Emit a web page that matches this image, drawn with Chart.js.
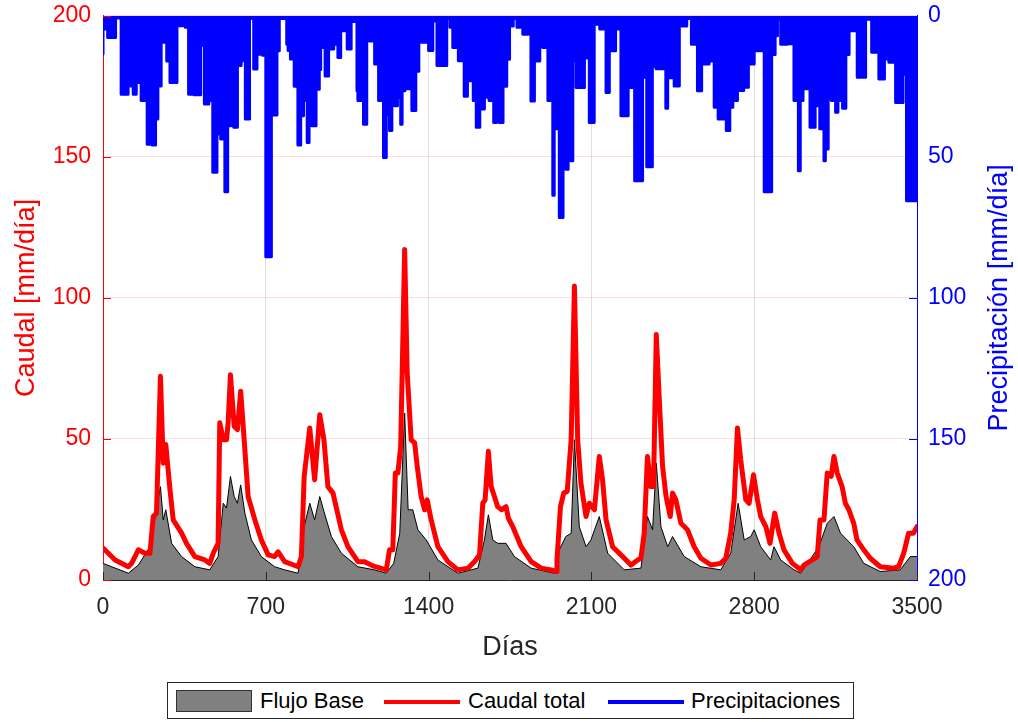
<!DOCTYPE html>
<html>
<head>
<meta charset="utf-8">
<script src="https://cdn.jsdelivr.net/npm/chart.js@4.4.1/dist/chart.umd.min.js"></script>
<style>
  body { margin: 0; background: #fff; font-family: "Liberation Sans", Arial, sans-serif; overflow: hidden; }
  #wrap { position: relative; width: 1018px; height: 722px; }
  #chartBox { position: absolute; left: 0; top: -10px; width: 1018px; height: 682px; }
  #legend { position: absolute; left: 167px; top: 682px; width: 687px; height: 37px;
            border: 1px solid #262626; box-sizing: border-box; background: #fff;
            font-size: 22px; color: #000; }
  #legend span, #legend i { position: absolute; display: block; }
  #legend span { top: 4px; line-height: 28px; }
  #legend i { height: 4px; top: 17px; }
</style>
</head>
<body>
<div id="wrap">
  <div id="chartBox"><canvas id="caudal"></canvas></div>
  <div id="legend">
    <i style="left:8px; top:7px; width:76px; height:22px; background:#808080; border:1px solid #333; box-sizing:border-box"></i>
    <span style="left:92px">Flujo Base</span>
    <i style="left:216px; width:76px; background:#ff0000"></i>
    <span style="left:300px">Caudal total</span>
    <i style="left:440px; width:76px; background:#0000ff"></i>
    <span style="left:523px">Precipitaciones</span>
  </div>
</div>
<script>
// caudal total (mm/dia)
const totalDays = [0, 23, 52, 109, 123, 152, 180, 202, 216, 230, 247, 259, 270, 288, 302, 338, 359, 395, 438, 459, 474, 495,
  502, 517, 531, 538, 548, 564, 578, 592, 607, 624, 653, 681, 710, 738, 753, 781, 839, 853, 865, 889, 910, 932, 950, 967,
  989, 1025, 1053, 1096, 1125, 1160, 1218, 1232, 1246, 1257, 1268, 1280, 1297, 1308, 1325, 1340, 1351, 1368, 1383, 1394,
  1411, 1440, 1483, 1526, 1569, 1597, 1619, 1633, 1643, 1657, 1669, 1683, 1697, 1714, 1733, 1743, 1762, 1798, 1841, 1884,
  1927, 1948, 1952, 1967, 1981, 1996, 2013, 2027, 2041, 2055, 2077, 2091, 2113, 2134, 2148, 2163, 2191, 2227, 2270, 2299,
  2313, 2327, 2341, 2356, 2367, 2379, 2392, 2406, 2421, 2439, 2449, 2463, 2485, 2513, 2542, 2571, 2614, 2656, 2678, 2699,
  2714, 2728, 2742, 2764, 2778, 2797, 2814, 2828, 2850, 2868, 2888, 2907, 2928, 2964, 3000, 3014, 3050, 3071, 3083, 3100,
  3114, 3131, 3143, 3157, 3178, 3192, 3207, 3228, 3242, 3271, 3299, 3342, 3400, 3421, 3443, 3464, 3485, 3500];
const totalFlow = [11.3, 9.5, 7.1, 4.7, 5.9, 10.7, 9.5, 9.5, 22.5, 23.7, 72.2, 41.4, 48, 32, 21.3, 16.6, 13, 8.3, 7.1, 5.9, 9.5, 13,
  55.7, 49.7, 49.7, 55.7, 72.8, 54.5, 53.3, 66.9, 49.7, 29.6, 21.3, 14.2, 8.9, 8.3, 10, 6.5, 4.7, 8.3, 36.7, 53.9, 35.5, 58.6, 49.7, 33.1,
  30.8, 17.8, 11.8, 6.5, 6.5, 5, 3.6, 10.7, 10.7, 37.9, 37.9, 47.4, 117.2, 73.4, 49.7, 48.6, 40.3, 29.6, 24.9, 28.4,
  21.3, 11.8, 6.5, 3.6, 4.2, 6.5, 8.9, 27.2, 28.4, 45.6, 33.1, 29.6, 26, 24.9, 26, 21.9, 18.9, 11.8, 6.5, 4.2,
  3.6, 3, 7.1, 26, 30.8, 31.4, 49.7, 104.2, 49.7, 34.3, 22.5, 27.2, 24.9, 43.8, 35.5, 21.3, 11.8, 8.9, 5.3, 7.1,
  7.7, 16.6, 43.8, 33.1, 33.1, 87, 63.9, 40.3, 29.6, 22.5, 30.8, 28.4, 20.1, 17.8, 11.8, 7.7, 5.3, 5.9, 7.7, 16.6,
  28.4, 53.9, 42.6, 28.4, 27.2, 37.3, 28.4, 22.5, 18.9, 13, 23.7, 16.6, 10.7, 5.9, 3.6, 5.3, 7.1, 8.3, 21.3, 21.3,
  37.9, 36.7, 43.8, 37.9, 33.1, 27.2, 24.9, 20.1, 14.2, 10.7, 7.7, 4.7, 4.2, 4.7, 9.5, 16.6, 16.6, 18.9];

// flujo base (mm/dia)
const baseDays = [0, 109, 152, 202, 247, 259, 270, 295, 338, 395, 459, 495, 517, 531, 548, 564, 578, 592, 610, 638, 681, 738,
  781, 839, 865, 889, 910, 932, 950, 982, 1025, 1096, 1168, 1218, 1250, 1276, 1297, 1312, 1332, 1354, 1390, 1440, 1526,
  1612, 1640, 1657, 1676, 1697, 1733, 1769, 1841, 1941, 1962, 1990, 2013, 2027, 2048, 2077, 2098, 2134, 2170, 2241, 2313,
  2341, 2363, 2379, 2399, 2428, 2449, 2499, 2571, 2656, 2699, 2731, 2757, 2785, 2800, 2828, 2871, 2885, 2914, 2971, 3000,
  3078, 3114, 3143, 3171, 3228, 3271, 3342, 3428, 3471, 3500];
const baseFlow = [5.9, 2.4, 5.3, 11.8, 33.1, 21.3, 24.9, 13, 8.3, 4.7, 3.6, 8.3, 27.2, 25.5, 36.7, 29.6, 27.2, 33.7, 23.7, 14.2, 8.3, 4.7,
  3.6, 2.4, 18.9, 27.2, 21.3, 29.6, 24.3, 15.4, 9.5, 4.7, 3.6, 2.4, 5.9, 16.6, 59.2, 24.9, 24.9, 17.8, 14.2, 7.1, 2.4,
  4.2, 14.2, 23.1, 14.2, 13, 13, 8.3, 4.2, 2.4, 10.7, 15.4, 16.6, 49.7, 18.9, 11.8, 14.2, 22.5, 9.5, 3.6, 4.2,
  22.5, 17.8, 41.4, 18.9, 11.8, 15.4, 8.3, 4.7, 3.6, 9.5, 27.2, 14.2, 15.4, 17.8, 11.8, 7.1, 11.8, 7.1, 3.6, 2.4,
  11.8, 20.1, 22.5, 16.6, 11.8, 5.9, 3, 3.6, 8.3, 8.3];

// precipitaciones (mm/dia): cada valor rige desde su dia hasta el siguiente
const rainDays = [0, 20, 54, 78, 108, 130, 143, 164, 190, 202, 212, 226, 236, 250, 274, 288, 318, 354, 368, 392, 420, 436,
  455, 472, 490, 506, 524, 536, 550, 562, 578, 594, 612, 630, 648, 662, 686, 700, 724, 732, 748, 758, 790, 796, 806, 822,
  838, 850, 862, 878, 886, 898, 916, 930, 936, 955, 970, 992, 1010, 1022, 1042, 1050, 1067, 1092, 1096, 1120, 1134, 1146,
  1168, 1185, 1206, 1218, 1232, 1242, 1254, 1266, 1280, 1286, 1298, 1318, 1328, 1345, 1358, 1400, 1418, 1436, 1478, 1492,
  1504, 1528, 1553, 1567, 1582, 1592, 1605, 1620, 1640, 1660, 1680, 1692, 1704, 1720, 1736, 1748, 1764, 1780, 1805, 1828,
  1840, 1855, 1878, 1891, 1913, 1934, 1940, 1952, 1962, 1978, 1990, 2000, 2012, 2020, 2034, 2070, 2091, 2112, 2136, 2163,
  2177, 2204, 2227, 2258, 2286, 2320, 2338, 2362, 2378, 2420, 2428, 2456, 2478, 2510, 2530, 2556, 2574, 2606, 2628, 2645,
  2680, 2695, 2708, 2728, 2738, 2755, 2775, 2800, 2843, 2875, 2890, 2900, 2914, 2943, 2971, 2990, 2998, 3010, 3020, 3040,
  3062, 3082, 3100, 3106, 3118, 3132, 3150, 3160, 3180, 3194, 3208, 3243, 3279, 3305, 3336, 3360, 3379, 3408, 3440, 3455,
  3482, 3500];
const rainVals = [13.5, 4.7, 7.7, 0.8, 27.8, 24.9, 27.8, 23.6, 30, 45.5, 36, 45.8, 36.6, 24.9, 9.4, 16, 23.6, 3.5, 4.1, 27.8, 28, 10.5,
  31.3, 30, 55.5, 41.9, 43.7, 62.4, 39, 38, 39.5, 17.6, 15.9, 36.6, 1, 18.9, 13.6, 14, 85.4, 30, 35.2, 12.4, 1, 10.1, 12.3, 15.3,
  25, 45.8, 35.4, 30, 44.9, 26, 39, 26, 19, 11.2, 21.3, 11.8, 10.1, 14.8, 5.3, 1.8, 11.8, 2, 26.6, 30, 38.4, 4.1,
  8.9, 17.1, 30, 50.2, 35, 40.7, 30, 31.9, 29, 38.4, 26.6, 25.9, 21.2, 33.6, 19.7, 9.4, 12.3, 1.8, 17.6, 1,
  4.1, 11.2, 15.9, 28.5, 23, 19.4, 30, 39.5, 33, 28.9, 30, 37.8, 28.9, 37.8, 25, 15.4, 3.6, 1, 4.1, 6.5,
  1, 30.2, 16, 10.7, 11.2, 30, 63.6, 40, 33, 71.5, 45, 54.4, 45, 51.4, 16, 25.4, 15, 37.8, 3, 4.7,
  27.2, 12.4, 4.7, 35.4, 25.4, 58.5, 21.8, 53.5, 18, 18.8, 32.8, 22, 24.9, 3.6, 1, 10.1, 26.6, 17.1, 16, 32.4,
  36.6, 40.7, 32.4, 30, 22.4, 26.5, 25.3, 17.1, 12.4, 62.4, 13.7, 7.1, 1.2, 10.1, 9.9, 30, 54.9, 30, 21.2, 25.9,
  39.5, 31.9, 40, 51.4, 47.2, 29.5, 30, 34.2, 30, 32.8, 13.7, 5.3, 21.8, 1.2, 12.9, 22.4, 15.3, 16.5, 30.7, 20.7,
  65.6, 65.6];

const dayTicks = [0, 700, 1400, 2100, 2800, 3500];
const flowTicks = [0, 50, 100, 150, 200];

const toXY = (xs, ys) => xs.map((d, i) => ({ x: d, y: ys[i] }));
const plain = v => String(v);

const FONT = "'Liberation Sans', Arial, sans-serif";
const AX = '#262626';

// marcas de escala hacia dentro, al estilo de los ejes con caja
const innerTicks = {
  id: 'innerTicks',
  afterDraw(chart) {
    const { ctx, chartArea: a, scales } = chart;
    ctx.save();
    ctx.lineWidth = 1;
    ctx.strokeStyle = AX;
    dayTicks.forEach(v => {
      const px = Math.round(scales.x.getPixelForValue(v)) + 0.5;
      ctx.beginPath(); ctx.moveTo(px, a.bottom); ctx.lineTo(px, a.bottom - 8); ctx.stroke();
    });
    flowTicks.forEach(v => {
      const py = Math.round(scales.y.getPixelForValue(v)) + 0.5;
      ctx.strokeStyle = '#ff0000';
      ctx.beginPath(); ctx.moveTo(a.left, py); ctx.lineTo(a.left + 8, py); ctx.stroke();
      const qy = Math.round(scales.y2.getPixelForValue(v)) + 0.5;
      ctx.strokeStyle = '#0000ff';
      ctx.beginPath(); ctx.moveTo(a.right, qy); ctx.lineTo(a.right - 8, qy); ctx.stroke();
    });
    // titulo del eje derecho, leido de abajo hacia arriba
    ctx.translate(1000, (a.top + a.bottom) / 2);
    ctx.rotate(-Math.PI / 2);
    ctx.fillStyle = '#0000ff';
    ctx.font = '27px ' + FONT;
    ctx.textAlign = 'center';
    ctx.textBaseline = 'middle';
    ctx.fillText('Precipitación [mm/día]', 0, 0);
    ctx.restore();
  }
};

new Chart(document.getElementById('caudal'), {
  type: 'line',
  data: {
    datasets: [
      {
        label: 'Precipitaciones',
        data: toXY(rainDays, rainVals),
        yAxisID: 'y2',
        stepped: 'after',
        borderColor: '#0000ff',
        backgroundColor: '#0000ff',
        borderWidth: 3,
        borderJoinStyle: 'round',
        borderCapStyle: 'round',
        fill: 'origin',
        pointRadius: 0,
        order: 3
      },
      {
        label: 'Flujo Base',
        data: toXY(baseDays, baseFlow),
        yAxisID: 'y',
        borderColor: '#000000',
        backgroundColor: '#808080',
        borderWidth: 1,
        fill: 'origin',
        pointRadius: 0,
        order: 2
      },
      {
        label: 'Caudal total',
        data: toXY(totalDays, totalFlow),
        yAxisID: 'y',
        borderColor: '#ff0000',
        borderWidth: 5,
        borderJoinStyle: 'round',
        borderCapStyle: 'round',
        fill: false,
        pointRadius: 0,
        order: 1
      }
    ]
  },
  options: {
    responsive: true,
    maintainAspectRatio: false,
    animation: false,
    layout: { padding: { top: 7 } },
    plugins: { legend: { display: false }, tooltip: { enabled: false } },
    scales: {
      x: {
        type: 'linear',
        min: 0, max: 3500,
        afterBuildTicks: s => { s.ticks = dayTicks.map(v => ({ value: v })); },
        afterFit: s => { s.height = 92; },
        ticks: { color: AX, padding: 14, maxRotation: 0, callback: plain, font: { family: FONT, size: 23 } },
        grid: { color: 'rgba(0,0,0,0.12)', drawTicks: false },
        border: { color: AX, width: 1 },
        title: { display: true, text: 'Días', color: AX, padding: { top: 0, bottom: 8 }, font: { family: FONT, size: 27 } }
      },
      y: {
        position: 'left',
        min: 0, max: 200,
        afterBuildTicks: s => { s.ticks = flowTicks.map(v => ({ value: v })); },
        afterFit: s => { s.width = 103; },
        ticks: { color: '#ff0000', padding: 12, callback: plain, font: { family: FONT, size: 23 } },
        grid: { color: 'rgba(255,0,0,0.13)', drawTicks: false },
        border: { color: '#ff0000', width: 1 },
        title: { display: true, text: 'Caudal [mm/día]', color: '#ff0000', padding: { top: 10, bottom: 0 }, font: { family: FONT, size: 27 } }
      },
      y2: {
        position: 'right',
        min: 0, max: 200,
        reverse: true,
        afterBuildTicks: s => { s.ticks = flowTicks.map(v => ({ value: v })); },
        afterFit: s => { s.width = 101; },
        ticks: { color: '#0000ff', padding: 11, callback: plain, font: { family: FONT, size: 23 } },
        grid: { drawOnChartArea: false, drawTicks: false },
        border: { color: '#0000ff', width: 1 }
      }
    }
  },
  plugins: [innerTicks]
});
</script>
</body>
</html>
